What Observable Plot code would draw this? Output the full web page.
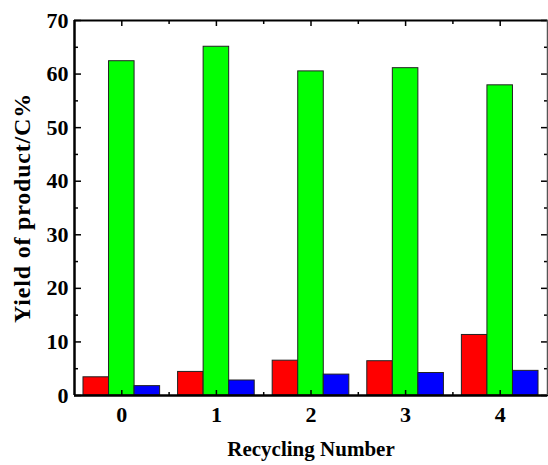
<!DOCTYPE html>
<html><head><meta charset="utf-8">
<script src="https://cdn.jsdelivr.net/npm/d3@7"></script>
<script src="https://cdn.jsdelivr.net/npm/@observablehq/plot@0.6"></script>
<style>
body{margin:0;background:#fff}
svg text{font-family:"Liberation Serif","Times New Roman",Times,serif !important;font-weight:bold}
</style>
</head><body><div id="chart"></div>
<script>
const cycles = [0, 1, 2, 3, 4];
const seriesNames = ["Product A", "Product B", "Product C"];
const seriesColors = ["#ff0000", "#00ff00", "#0000ff"];
const productA = [3.4, 4.4, 6.5, 6.4, 11.3];
const productB = [62.4, 65.1, 60.5, 61.1, 57.9];
const productC = [1.75, 2.8, 3.9, 4.2, 4.6];
const yMajorTicks = [0, 10, 20, 30, 40, 50, 60, 70];
const yMinorTicks = [5, 15, 25, 35, 45, 55, 65];
const xMajorTicks = [0, 1, 2, 3, 4];
const xMinorTicks = [0.5, 1.5, 2.5, 3.5];
const xDomain = [-0.5, 4.5];
const yDomain = [0, 70];
const xLabel = "Recycling Number";
const yLabel = "Yield of product/C%";

const values = [productA, productB, productC];
const barWidth = 0.27;
const rows = [];
seriesNames.forEach((s, k) => cycles.forEach((c, i) => rows.push({cycle: c, series: s, k, value: values[k][i]})));

const chart = Plot.plot({
  width: 548, height: 465,
  marginLeft: 74, marginRight: 1, marginTop: 20, marginBottom: 70,
  x: {domain: xDomain},
  y: {domain: yDomain},
  color: {domain: seriesNames, range: seriesColors},
  style: {fontWeight: "bold", fontSize: "22px", color: "black", background: "white"},
  marks: [
    Plot.rectY(rows, {
      x1: d => d.cycle + (d.k - 1.5) * barWidth,
      x2: d => d.cycle + (d.k - 0.5) * barWidth,
      y1: 0, y2: "value", fill: "series", stroke: "#222", strokeWidth: 1
    }),
    // tick labels
    Plot.axisY(yMajorTicks, {anchor: "left", tickSize: 0, tickPadding: 6, label: null, fontSize: 22}),
    Plot.axisX(xMajorTicks, {anchor: "bottom", tickSize: 0, tickPadding: 11, label: null, fontSize: 22}),
    // inward ticks
    Plot.axisY(yMajorTicks, {anchor: "left", tickSize: 7, dx: 7, tickFormat: () => "", label: null, strokeWidth: 1.5}),
    Plot.axisY(yMinorTicks, {anchor: "left", tickSize: 4, dx: 4, tickFormat: () => "", label: null, strokeWidth: 1.5}),
    Plot.axisY(yMajorTicks, {anchor: "right", tickSize: 7, dx: -7, tickFormat: () => "", label: null, strokeWidth: 1.5}),
    Plot.axisY(yMinorTicks, {anchor: "right", tickSize: 4, dx: -4, tickFormat: () => "", label: null, strokeWidth: 1.5}),
    Plot.axisX(xMajorTicks, {anchor: "bottom", tickSize: 5, dy: -5, tickFormat: () => "", label: null, strokeWidth: 1.5}),
    Plot.axisX(xMinorTicks, {anchor: "bottom", tickSize: 3, dy: -3, tickFormat: () => "", label: null, strokeWidth: 1.5}),
    Plot.axisX(xMajorTicks, {anchor: "top", tickSize: 5, dy: 5, tickFormat: () => "", label: null, strokeWidth: 1.5}),
    Plot.axisX(xMinorTicks, {anchor: "top", tickSize: 3, dy: 3, tickFormat: () => "", label: null, strokeWidth: 1.5}),
    // frame
    Plot.ruleX([xDomain[0]], {stroke: "black", strokeWidth: 2.5}),
    Plot.ruleY([yDomain[0]], {stroke: "black", strokeWidth: 2.5}),
    Plot.ruleY([yDomain[1]], {stroke: "black", strokeWidth: 2}),
    Plot.ruleX([xDomain[1]], {stroke: "#555", strokeWidth: 1.5}),
    // axis titles
    Plot.text([yLabel], {frameAnchor: "left", dx: -52, rotate: -90, fontSize: 24, textAnchor: "middle", lineAnchor: "middle", fontWeight: "bold"}),
    Plot.text([xLabel], {frameAnchor: "bottom", dy: 54, fontSize: 21, textAnchor: "middle", lineAnchor: "middle", fontWeight: "bold"})
  ]
});
d3.select(chart).selectAll("text").filter(function() { return this.textContent === yLabel; }).style("letter-spacing", "0.8px");
document.getElementById("chart").appendChild(chart);
</script>
</body></html>
